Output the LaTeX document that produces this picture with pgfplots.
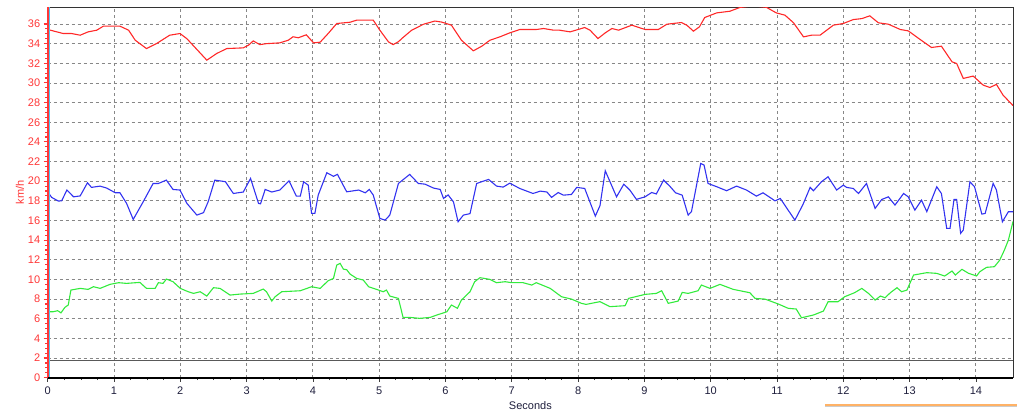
\documentclass[border=0pt]{standalone}
\usepackage{pgfplots}
\pgfplotsset{compat=1.18}
\usepackage{fontspec}
\setmainfont{Liberation Sans}
\usetikzlibrary{calc}
\definecolor{cred}{RGB}{255,40,40}
\definecolor{cblue}{RGB}{50,50,240}
\definecolor{cgreen}{RGB}{50,235,60}
\definecolor{labred}{RGB}{255,55,55}
\definecolor{gridgray}{RGB}{135,135,135}
\definecolor{navy}{RGB}{30,30,60}
\begin{document}
\begin{tikzpicture}
\begin{axis}[
  scale only axis,
  width=965.3bp, height=370.4bp,
  xmin=0, xmax=14.56, ymin=0, ymax=37.7,
  xtick={0,1,...,14}, ytick={0,2,...,36},
  minor x tick num=3, minor y tick num=3,
  tick pos=left, tick align=outside,
  major tick length=4bp, minor tick length=2.5bp,
  x tick style={black!75, line width=0.6bp},
  y tick style={labred, line width=1.1bp},
  grid=major,
  major grid style={gridgray, dash pattern=on 3bp off 3bp, line width=0.8bp},
  axis line style={black!80, line width=0.8bp},
  /pgf/number format/assume math mode=true,
  tick label style={font=\fontsize{11bp}{13bp}\selectfont},
  xticklabel style={navy, yshift=-2bp},
  yticklabel style={labred, xshift=0bp},
  xlabel={Seconds}, ylabel={km/h},
  xlabel style={navy, font=\fontsize{11bp}{13bp}\selectfont, yshift=0bp},
  ylabel style={labred, font=\fontsize{11bp}{13bp}\selectfont, yshift=-3bp},
  clip=true,
]
% reference line
\addplot[gray!70!black, line width=0.7bp, forget plot] coordinates {(0,1.73) (14.56,1.73)};
% red
\addplot[cred, line width=1.1bp] coordinates {
(0,35.44) (0.235,35.03) (0.36,35.03) (0.49,34.86) (0.61,35.2) (0.74,35.37) (0.84,35.78) (1.09,35.78)
(1.22,35.37) (1.32,34.35) (1.49,33.5) (1.64,34.0) (1.84,34.86) (1.995,35.03) (2.10,34.5) (2.40,32.32)
(2.55,33.0) (2.70,33.5) (2.95,33.57) (3.03,33.85) (3.10,34.28) (3.20,33.9) (3.30,34.0) (3.50,34.08)
(3.63,34.35) (3.70,34.7) (3.78,34.6) (3.90,34.9) (4.01,34.08) (4.11,34.15) (4.23,35.03) (4.36,36.05)
(4.56,36.18) (4.66,36.39) (4.91,36.39) (5.01,35.37) (5.14,34.18) (5.21,33.9) (5.29,34.2) (5.36,34.63)
(5.49,35.37) (5.67,35.98) (5.84,36.3) (5.94,36.2) (6.09,35.88) (6.24,34.35) (6.42,33.27) (6.55,33.75)
(6.67,34.35) (6.82,34.69) (6.97,35.1) (7.12,35.44) (7.37,35.44) (7.48,35.54) (7.63,35.37) (7.72,35.37)
(7.88,35.2) (8.10,35.64) (8.18,35.37) (8.30,34.52) (8.41,35.1) (8.51,35.54) (8.61,35.37) (8.81,35.88)
(9.01,35.44) (9.21,35.44) (9.34,35.98) (9.56,36.15) (9.64,35.88) (9.74,35.27) (9.83,35.71) (9.91,36.66)
(10.09,37.13) (10.29,37.3) (10.44,37.68) (10.64,37.85) (10.84,37.7) (10.99,37.13) (11.12,36.9) (11.25,36.12)
(11.40,34.69) (11.52,34.86) (11.65,34.86) (11.85,35.88) (12.0,36.05) (12.15,36.45) (12.28,36.55) (12.40,36.83)
(12.53,36.12) (12.68,35.98) (12.86,35.44) (12.98,35.3) (13.16,34.42) (13.33,33.61) (13.48,33.74) (13.64,32.15)
(13.71,31.98) (13.81,30.46) (13.96,30.7) (14.11,29.78) (14.21,29.54) (14.31,29.85) (14.41,28.76) (14.56,27.7)
};
% blue
\addplot[cblue, line width=1.1bp] coordinates {
(0,18.92) (0.06,18.35) (0.16,17.98) (0.21,18.0) (0.29,19.1) (0.39,18.41) (0.49,18.5) (0.60,19.84)
(0.66,19.37) (0.79,19.5) (0.89,19.3) (1.02,18.82) (1.09,18.82) (1.19,17.74) (1.29,16.11) (1.44,17.9)
(1.59,19.77) (1.67,19.77) (1.79,20.11) (1.89,19.16) (1.995,19.1) (2.10,17.74) (2.25,16.55) (2.35,16.8)
(2.42,17.9) (2.52,20.11) (2.68,19.95) (2.80,18.75) (2.95,18.9) (3.06,20.28) (3.18,17.74) (3.21,17.7)
(3.28,19.16) (3.38,18.9) (3.50,19.1) (3.64,20.04) (3.75,18.48) (3.81,18.48) (3.86,19.94) (3.93,19.6)
(3.98,16.72) (4.03,16.72) (4.08,18.58) (4.21,20.86) (4.31,20.5) (4.37,20.7) (4.51,18.92) (4.69,19.1)
(4.79,18.82) (4.85,19.16) (4.91,18.6) (5.01,16.21) (5.09,16.04) (5.16,16.55) (5.29,19.77) (5.46,20.69)
(5.59,19.77) (5.69,19.7) (5.82,19.3) (5.92,19.16) (5.97,18.25) (6.04,18.6) (6.12,17.9) (6.19,15.87)
(6.27,16.55) (6.37,16.7) (6.47,19.77) (6.65,20.18) (6.77,19.5) (6.87,19.4) (6.97,19.8) (7.12,19.26)
(7.32,18.75) (7.43,18.99) (7.53,18.9) (7.60,18.35) (7.70,18.85) (7.78,18.58) (7.90,18.65) (7.98,19.37)
(8.10,19.26) (8.26,16.45) (8.33,17.5) (8.41,21.06) (8.58,18.41) (8.69,19.7) (8.78,19.1) (8.88,18.15)
(9.01,18.41) (9.11,18.85) (9.18,18.7) (9.29,20.11) (9.39,19.44) (9.47,18.82) (9.57,18.58) (9.66,16.55)
(9.71,16.9) (9.85,21.81) (9.90,21.64) (9.96,19.77) (10.09,19.44) (10.24,19.03) (10.39,19.5) (10.54,19.1)
(10.69,18.48) (10.79,18.82) (10.97,18.0) (11.05,18.24) (11.27,16.04) (11.39,17.6) (11.50,19.37) (11.55,19.03)
(11.67,19.94) (11.77,20.45) (11.90,19.1) (12.0,19.6) (12.05,19.37) (12.15,19.26) (12.23,18.75) (12.35,19.77)
(12.48,17.23) (12.58,18.14) (12.68,18.41) (12.78,17.57) (12.91,18.75) (12.98,18.41) (13.08,17.06) (13.18,18.07)
(13.26,16.9) (13.41,19.43) (13.48,18.75) (13.56,15.2) (13.61,15.2) (13.67,18.14) (13.71,18.14) (13.77,14.69)
(13.81,15.03) (13.91,19.94) (13.98,19.43) (14.09,16.65) (14.14,16.72) (14.26,19.77) (14.31,19.1) (14.40,15.87)
(14.49,16.89) (14.56,16.89)
};
% green
\addplot[cgreen, line width=1.1bp] coordinates {
(0,6.71) (0.08,6.71) (0.15,6.82) (0.20,6.6) (0.26,7.16) (0.31,7.4) (0.35,8.92) (0.49,9.09)
(0.61,8.99) (0.69,9.26) (0.79,9.09) (0.94,9.5) (1.07,9.67) (1.19,9.6) (1.39,9.7) (1.49,9.09)
(1.62,9.09) (1.67,9.67) (1.74,9.6) (1.79,10.04) (1.89,9.77) (2.0,9.09) (2.12,8.75) (2.20,8.58)
(2.30,8.75) (2.40,8.31) (2.50,9.16) (2.60,9.09) (2.75,8.41) (2.90,8.51) (3.10,8.58) (3.25,9.02)
(3.30,8.75) (3.38,7.8) (3.43,8.24) (3.53,8.75) (3.81,8.85) (3.98,9.26) (4.11,9.09) (4.23,9.87)
(4.31,10.1) (4.36,11.46) (4.41,11.64) (4.46,11.05) (4.51,10.99) (4.56,10.55) (4.66,10.11) (4.76,9.94)
(4.84,9.26) (4.96,8.99) (5.06,8.75) (5.11,8.92) (5.16,8.31) (5.29,8.07) (5.36,6.14) (5.46,6.14)
(5.61,6.04) (5.77,6.14) (5.87,6.38) (6.02,6.71) (6.09,7.4) (6.18,7.06) (6.24,7.9) (6.37,8.75)
(6.44,9.77) (6.52,10.18) (6.67,10.01) (6.77,9.67) (6.90,9.77) (7.0,9.67) (7.17,9.67) (7.30,9.43)
(7.37,9.67) (7.58,9.09) (7.75,8.24) (7.90,8.0) (8.05,7.57) (8.12,7.46) (8.33,7.74) (8.48,7.23)
(8.71,7.33) (8.76,8.07) (9.01,8.48) (9.18,8.58) (9.26,8.85) (9.36,7.57) (9.51,7.8) (9.57,8.68)
(9.66,8.58) (9.81,8.85) (9.86,9.43) (9.99,9.09) (10.14,9.5) (10.34,8.99) (10.59,8.65) (10.67,8.07)
(10.82,8.0) (11.02,7.5) (11.17,7.06) (11.29,6.99) (11.37,6.1) (11.55,6.38) (11.70,6.78) (11.77,7.73)
(11.92,7.73) (12.02,8.24) (12.17,8.65) (12.28,9.09) (12.38,8.58) (12.48,7.9) (12.56,8.31) (12.63,8.14)
(12.71,8.65) (12.81,9.16) (12.88,8.75) (12.96,8.92) (13.06,10.45) (13.26,10.69) (13.41,10.62) (13.53,10.35)
(13.64,10.86) (13.69,10.45) (13.79,11.03) (13.89,10.62) (14.01,10.35) (14.06,10.79) (14.16,11.23) (14.28,11.3)
(14.36,11.97) (14.43,12.99) (14.49,14.0) (14.56,15.9)
};
\end{axis}
% left red axis line, cyan marker line, thick bottom line
\draw[cyan!70, line width=0.8bp] ($(current axis.south west)+(1.2bp,0)$) -- ($(current axis.north west)+(1.2bp,0)$);
\draw[labred, line width=1.6bp] (current axis.south west) -- (current axis.north west);
\draw[black, line width=1.8bp] (current axis.south west) -- (current axis.south east);
% screenshot overlay edge
\draw[gray!40, line width=0.6bp] ($(current axis.south west)+(777.3bp,-28.5bp)$) -- ($(current axis.south east)+(4bp,-28.5bp)$);
\draw[orange!60, line width=1.2bp] ($(current axis.south west)+(777.3bp,-27.3bp)$) -- ($(current axis.south east)+(4bp,-27.3bp)$);
\pgfresetboundingbox
\path ($(current axis.south west)+(-47.7bp,-34.3bp)$) rectangle ($(current axis.north east)+(4bp,7.3bp)$);
\end{tikzpicture}
\end{document}
